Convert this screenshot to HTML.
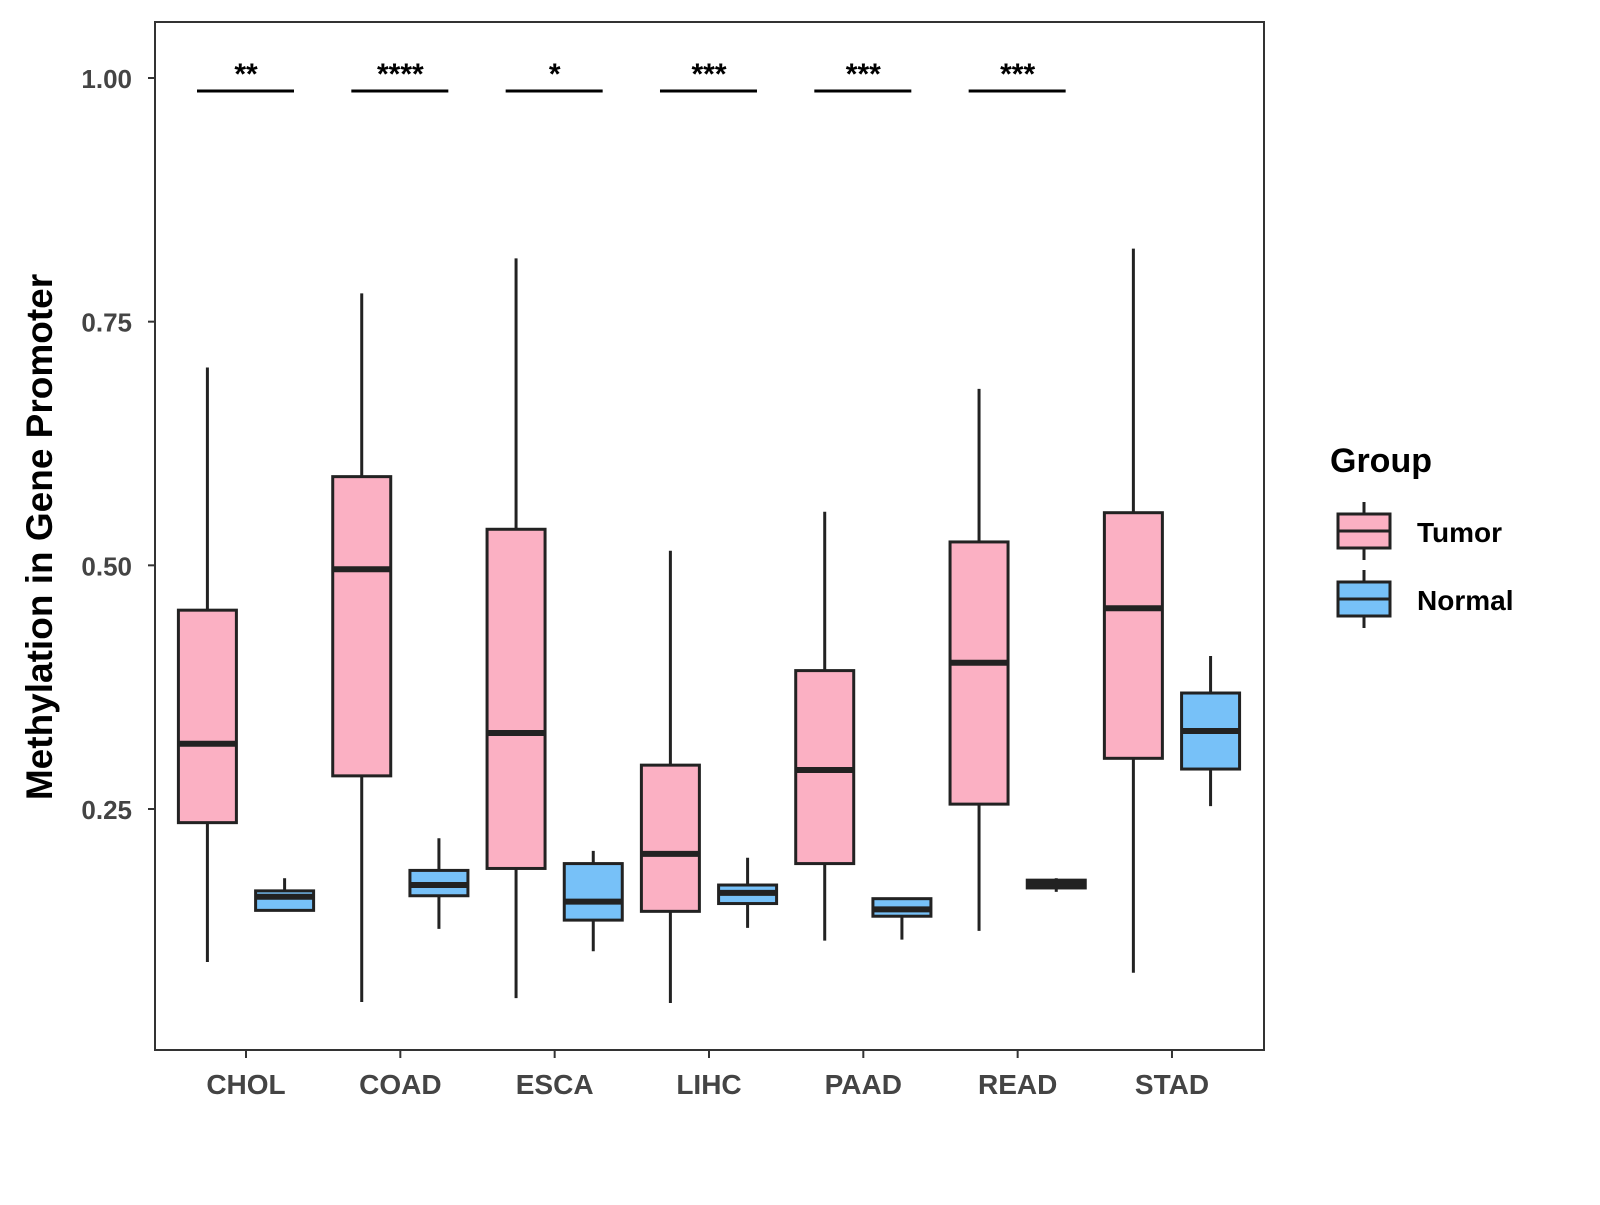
<!DOCTYPE html>
<html><head><meta charset="utf-8"><style>
body{margin:0;background:#fff;}
svg text{font-family:"Liberation Sans",Arial,sans-serif;font-weight:bold;}
</style></head><body>
<svg id="chart" width="1600" height="1200" viewBox="0 0 1600 1200" xmlns="http://www.w3.org/2000/svg">
<rect x="0" y="0" width="1600" height="1200" fill="#fff"/>
<g id="plot"></g>
<rect x="155" y="22" width="1109" height="1028" fill="none" stroke="#333" stroke-width="2"/>
<text x="0" y="0" transform="translate(52,537) rotate(-90)" text-anchor="middle" font-size="37" fill="#000">Methylation in Gene Promoter</text>
<g>
<text x="1330" y="472" font-size="34" fill="#000">Group</text>
<g>
<line x1="1364" y1="502" x2="1364" y2="560" stroke="#222" stroke-width="3"/>
<rect x="1338" y="514" width="52" height="34" fill="#FBB0C3" stroke="#222" stroke-width="3"/>
<line x1="1338" y1="531" x2="1390" y2="531" stroke="#222" stroke-width="3"/>
<text x="1417" y="542" font-size="28" fill="#000">Tumor</text></g>
<g>
<line x1="1364" y1="570" x2="1364" y2="628" stroke="#222" stroke-width="3"/>
<rect x="1338" y="582" width="52" height="34" fill="#77C1F8" stroke="#222" stroke-width="3"/>
<line x1="1338" y1="599" x2="1390" y2="599" stroke="#222" stroke-width="3"/>
<text x="1417" y="610" font-size="28" fill="#000">Normal</text></g>
</g>
</svg>
<script>
const categories=["CHOL","COAD","ESCA","LIHC","PAAD","READ","STAD"];
const tumorStats=[[0.093,0.236,0.317,0.454,0.703],[0.052,0.284,0.496,0.591,0.779],[0.056,0.189,0.328,0.537,0.815],[0.051,0.145,0.204,0.295,0.515],[0.115,0.194,0.290,0.392,0.555],[0.125,0.255,0.400,0.524,0.681],[0.082,0.302,0.456,0.554,0.825]];
const normalStats=[[0.146,0.146,0.160,0.166,0.179],[0.127,0.161,0.172,0.187,0.220],[0.104,0.136,0.155,0.194,0.207],[0.128,0.153,0.164,0.172,0.200],[0.116,0.140,0.147,0.158,0.159],[0.165,0.169,0.173,0.177,0.179],[0.253,0.291,0.330,0.369,0.407]];
const signif=["**","****","*","***","***","***",""];
const yTicks=[0.25,0.5,0.75,1.0];
const yTickLabels=["0.25","0.50","0.75","1.00"];
const NS="http://www.w3.org/2000/svg";
const g=document.getElementById('plot');
function y(v){return 78+(1-v)*974.67;}
function xc(i){return 246+i*154.33;}
function mk(t,a,p){const e=document.createElementNS(NS,t);for(const k in a)e.setAttribute(k,a[k]);(p||g).appendChild(e);return e;}
yTicks.forEach((v,i)=>{
 const t=mk('line',{x1:148,x2:155,y1:y(v),y2:y(v),stroke:'#333','stroke-width':2});
 
 
 const l=mk('text',{x:132,y:y(v)+10,'text-anchor':'end','font-size':26,fill:'#444'});
 l.textContent=yTickLabels[i];
 
 
});
categories.forEach((c,i)=>{
 const t=mk('line',{x1:xc(i),x2:xc(i),y1:1050,y2:1058,stroke:'#333','stroke-width':2});
 
 
 const l=mk('text',{x:xc(i),y:1094,'text-anchor':'middle','font-size':28,fill:'#444'});
 l.textContent=c;
 
 
 [[tumorStats[i],-38.6,'#FBB0C3','tumor'],[normalStats[i],38.6,'#77C1F8','normal']].forEach(([s,off,col,nm])=>{
  const cx=xc(i)+off,w=58;
  const bg=mk('g',{});
  
  
  mk('line',{x1:cx,x2:cx,y1:y(s[4]),y2:y(s[0]),stroke:'#222','stroke-width':3},bg);
  mk('rect',{x:cx-w/2,y:y(s[3]),width:w,height:Math.max(0.5,y(s[1])-y(s[3])),fill:col,stroke:'#222','stroke-width':3},bg);
  mk('line',{x1:cx-w/2,x2:cx+w/2,y1:y(s[2]),y2:y(s[2]),stroke:'#222','stroke-width':6},bg);
 });
 if(signif[i]){
  const b=mk('line',{x1:xc(i)-49,x2:xc(i)+48,y1:91,y2:91,stroke:'#000','stroke-width':3});
  
  
  const s=mk('text',{x:xc(i),y:84,'text-anchor':'middle','font-size':30,fill:'#000'});
  s.textContent=signif[i];
  
  
 }
});
</script>
</body></html>
